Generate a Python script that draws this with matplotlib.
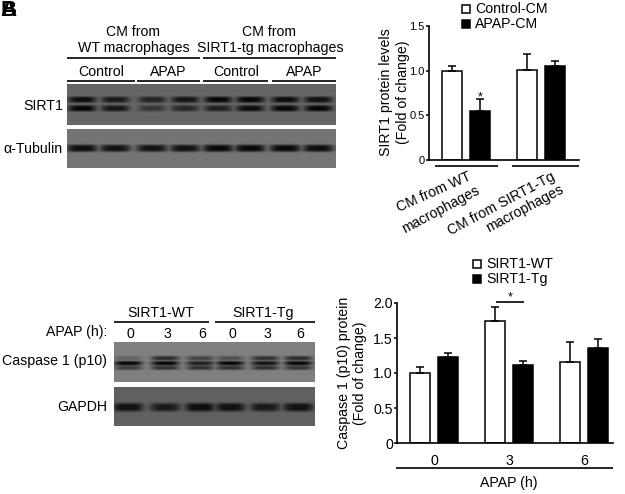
import numpy as np
import matplotlib
matplotlib.use('Agg')
import matplotlib.pyplot as plt
from matplotlib.patches import Rectangle

plt.rcParams['font.family'] = ['Liberation Sans', 'DejaVu Sans']
plt.rcParams['font.size'] = 10.2

# bar values
top_control = [1.00, 1.01]
top_control_err = [0.05, 0.18]
top_apap = [0.55, 1.05]
top_apap_err = [0.13, 0.06]

bot_wt = [1.00, 1.75, 1.16]
bot_wt_err = [0.08, 0.19, 0.28]
bot_tg = [1.23, 1.12, 1.36]
bot_tg_err = [0.06, 0.05, 0.13]
bot_groups = ['0', '3', '6']

# band strength per lane on the blots
sirt1_upper = [0.95, 0.8, 0.7, 0.85, 1.0, 1.0, 0.95, 0.9]
sirt1_lower = [1.0, 0.85, 0.5, 0.65, 0.75, 0.95, 1.0, 1.0]
tubulin = [0.95, 0.9, 0.9, 0.9, 1.0, 1.0, 1.0, 0.95]
casp_upper = [0.25, 0.7, 0.5, 0.4, 0.65, 0.7]
casp_main = [1.0, 1.0, 0.8, 1.0, 0.9, 1.0]
casp_lower = [0.55, 0.65, 0.65, 0.65, 0.65, 0.6]
gapdh = [0.9, 0.8, 0.95, 0.9, 0.8, 0.9]

W, H = 625, 494
fig = plt.figure(figsize=(W / 100, H / 100), dpi=100)


def px_axes(x0, y0, x1, y1):
    # axes from pixel box, y counted from the top of the image
    return fig.add_axes([x0 / W, 1 - y1 / H, (x1 - x0) / W, (y1 - y0) / H])


# overlay in pixel coords for blots and labels
ov = px_axes(0, 0, W, H)
ov.set_xlim(0, W)
ov.set_ylim(H, 0)
ov.axis('off')


def blot(x0, x1, y0, y1, bg, lanes, rows, half_w, half_h):
    # rows is a list of (band y, strengths per lane)
    xs = np.arange(x0, x1, 0.5)
    ys = np.arange(y0, y1, 0.5)
    xx, yy = np.meshgrid(xs, ys)
    dark = np.zeros_like(xx)
    for yc, strengths in rows:
        for xc, s in zip(lanes, strengths):
            prof_x = np.exp(-((xx - xc) / half_w) ** 4)
            prof_y = np.exp(-((yy - yc) / half_h) ** 4)
            dark = np.maximum(dark, s * prof_x * prof_y)
    img = bg * (1 - dark) + 0.03 * dark
    ov.imshow(img, cmap='gray', vmin=0, vmax=1, extent=[x0, x1, y1, y0],
              interpolation='bilinear', aspect='auto', zorder=1)


lanes_top = [82, 115, 152, 185, 218, 250, 285, 318]
lanes_bot = [128, 165, 200, 230, 265, 298]
blot(67, 336, 85, 125, 0.40, lanes_top, [(100, sirt1_upper), (108.5, sirt1_lower)], 14, 3.0)
blot(67, 336, 129, 168, 0.46, lanes_top, [(148, tubulin)], 15.5, 3.6)
blot(114, 315, 342, 382, 0.50, lanes_bot, [(358, casp_upper), (363, casp_main), (367.5, casp_lower)], 14, 2.2)
blot(114, 315, 387, 426, 0.38, lanes_bot, [(407, gapdh)], 15, 4.2)
ov.set_xlim(0, W)
ov.set_ylim(H, 0)


def label(x, y, s, ha='center', **kw):
    ov.text(x, y, s, ha=ha, va='center', color='black', **kw)


def rule(x0, x1, y, lw=1.2):
    ov.plot([x0, x1], [y, y], color='black', lw=lw, solid_capstyle='butt')


# panel letters overprinted in the corner
label(8.5, 10, 'A', fontsize=16, fontweight='bold')
label(8.5, 10, 'B', fontsize=16, fontweight='bold')

# top blot labels
label(133, 32, 'CM from')
label(134, 48, 'WT macrophages')
label(269, 32, 'CM from')
label(270, 48, 'SIRT1-tg macrophages')
rule(67, 200, 58)
rule(203, 336, 58)
label(101, 72, 'Control')
label(168, 72, 'APAP')
label(236, 72, 'Control')
label(304, 72, 'APAP')
rule(67, 135, 81)
rule(137, 200, 81)
rule(203, 268, 81)
rule(272, 336, 81)
label(63, 106, 'SIRT1', ha='right')
label(63, 149, 'α-Tubulin', ha='right')

# bottom blot labels
label(161, 313, 'SIRT1-WT')
label(263, 313, 'SIRT1-Tg')
rule(114, 209, 322)
rule(215, 315, 322)
label(107, 332, 'APAP (h):', ha='right')
for xc, s in zip(lanes_bot, ['0', '3', '6', '0', '3', '6']):
    label(xc + 2, 334, s)
label(107, 361, 'Caspase 1 (p10)', ha='right')
label(107, 407, 'GAPDH', ha='right')

# legends
for y0, fc, s in [(5, 'white', 'Control-CM'), (20, 'black', 'APAP-CM')]:
    ov.add_patch(Rectangle((462, y0), 8, 8, fc=fc, ec='black', lw=1.1))
    label(475, y0 + 4, s, ha='left')
for y0, fc, s in [(260, 'white', 'SIRT1-WT'), (275, 'black', 'SIRT1-Tg')]:
    ov.add_patch(Rectangle((473, y0), 8, 8, fc=fc, ec='black', lw=1.1))
    label(486, y0 + 4, s, ha='left')


def style(ax, tick_size):
    ax.patch.set_alpha(0)
    for side in ['top', 'right']:
        ax.spines[side].set_visible(False)
    for side in ['left', 'bottom']:
        ax.spines[side].set_linewidth(1.2)
    ax.tick_params(axis='y', length=2.5, width=1.1, pad=0.5, labelsize=tick_size)
    ax.tick_params(axis='x', length=0)


def bars(ax, xs, vals, errs, fc):
    ax.bar(xs, vals, width=20, fc=fc, ec='black', lw=1.1)
    ax.errorbar(xs, vals, yerr=[np.zeros(len(vals)), errs], fmt='none',
                ecolor='black', elinewidth=1.1, capsize=3, capthick=1.1)


# top bar chart
ax1 = px_axes(429, 26, 579, 160)
style(ax1, 8)
ax1.set_xlim(429, 579)
ax1.set_ylim(0, 1.5)
bars(ax1, [452, 527], top_control, top_control_err, 'white')
bars(ax1, [480, 555], top_apap, top_apap_err, 'black')
ax1.set_yticks([0, 0.5, 1.0, 1.5])
ax1.set_yticklabels(['0', '0.5', '1.0', '1.5'])
ax1.set_xticks([])
ax1.text(480, 0.70, '*', ha='center', va='center', fontsize=9)
rule(435, 498, 166)
rule(512, 579, 166)
label(386, 92, 'SIRT1 protein levels', rotation=90)
label(403, 92, '(Fold of change)', rotation=90)
label(434, 192, 'CM from WT', rotation=24, rotation_mode='anchor')
label(441, 210, 'macrophages', rotation=28, rotation_mode='anchor')
label(501, 204, 'CM from SIRT1-Tg', rotation=28, rotation_mode='anchor')
label(525, 209, 'macrophages', rotation=28, rotation_mode='anchor')

# bottom bar chart
ax2 = px_axes(397, 303, 613, 443)
style(ax2, 10.2)
ax2.set_xlim(397, 613)
ax2.set_ylim(0, 2.0)
bars(ax2, [420, 495, 570], bot_wt, bot_wt_err, 'white')
bars(ax2, [448, 523, 598], bot_tg, bot_tg_err, 'black')
ax2.set_yticks([0, 0.5, 1.0, 1.5, 2.0])
ax2.set_yticklabels(['0', '0.5', '1.0', '1.5', '2.0'])
ax2.set_xticks([434, 509, 584])
ax2.set_xticklabels(bot_groups, fontsize=10.2)
ax2.tick_params(axis='x', pad=8)
rule(496, 524, 302)
label(510, 297, '*', fontsize=9)
rule(396, 613, 468)
label(509, 483, 'APAP (h)')
label(344, 373, 'Caspase 1 (p10) protein', rotation=90)
label(360, 373, '(Fold of change)', rotation=90)

fig.savefig('out.png', dpi=100)
